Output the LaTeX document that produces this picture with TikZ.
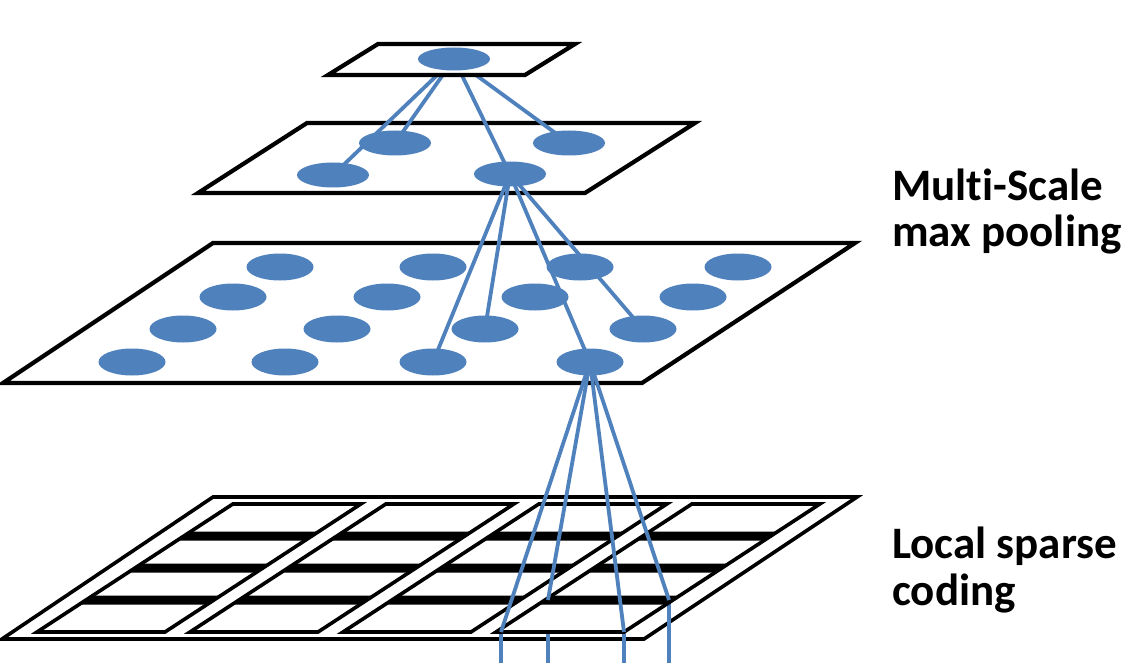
\documentclass[tikz,border=0pt]{standalone}
\usepackage{fontspec}
\setmainfont{Carlito}[Ligatures=NoCommon]
\usetikzlibrary{shapes.geometric}
\definecolor{nodeblue}{RGB}{79,129,189}
\pgfdeclarelayer{bg}
\pgfdeclarelayer{mid}
\pgfsetlayers{bg,mid,main}
\begin{document}
\begin{tikzpicture}[x=1pt,y=-1pt,
  plane/.style={draw=black,fill=white,line width=4.2pt,line join=miter},
  frame/.style={draw=black,fill=white,line width=3.6pt,line join=miter},
  colbox/.style={draw=black,fill=white,line width=3.6pt,line join=miter},
  bar/.style={fill=black},
  dot/.style={ellipse,fill=nodeblue,inner sep=0pt,draw=none},
  dotA/.style={dot,minimum width=72pt,minimum height=23pt},
  dotB/.style={dot,minimum width=72pt,minimum height=25pt},
  dotC/.style={dot,minimum width=67pt,minimum height=27pt},
  link/.style={draw=nodeblue,line width=3.8pt},
  lab/.style={font=\fontsize{45}{47}\selectfont\bfseries,align=left,inner sep=0pt,anchor=base west}
]
\useasboundingbox (0,0) rectangle (1143,663);

% ---- pooled units ----
\node[dotA] (t) at (454,59) {};
\node[dotB] (a1) at (395,143) {};
\node[dotB] (a2) at (569,143) {};
\node[dotB] (a3) at (333,175) {};
\node[dotB] (a4) at (510,174) {};
% row 1
\node[dotC] (b11) at (280,267) {};
\node[dotC] (b12) at (433,267) {};
\node[dotC] (b13) at (580,267) {};
\node[dotC] (b14) at (738,267) {};
% row 2
\node[dotC] (b21) at (233,297) {};
\node[dotC] (b22) at (387,297) {};
\node[dotC] (b23) at (535,297) {};
\node[dotC] (b24) at (693,297) {};
% row 3
\node[dotC] (b31) at (183,329) {};
\node[dotC] (b32) at (337,329) {};
\node[dotC] (b33) at (485,329) {};
\node[dotC] (b34) at (643,329) {};
% row 4
\node[dotC] (b41) at (132,362) {};
\node[dotC] (b42) at (285,362) {};
\node[dotC] (b43) at (433,362) {};
\node[dotC] (b44) at (590,362) {};

% cell corners reached by the links, and their downward ends
\coordinate (p1) at (501,632);
\coordinate (p2) at (548,600);
\coordinate (p3) at (624,632);
\coordinate (p4) at (669,600);
\coordinate (q1) at (501,663);
\coordinate (q2) at (548,663);
\coordinate (q3) at (624,663);
\coordinate (q4) at (669,663);

% ---- labels ----
\node[lab] (l1) at (892,247) {Multi-Scale\\max pooling};
\node[lab] (l2) at (892,605) {Local sparse\\coding};

% ---- background planes ----
\begin{pgfonlayer}{bg}
  % sparse coding grid
  \draw[frame] (213,497) -- (857,497) -- (644,639) -- (2,639) -- cycle;
  \foreach \a/\b in {p1/q1,p2/q2,p3/q3,p4/q4} \draw[link] (\a) -- (\b);
  \begin{scope}[shift={(0,632)},xslant=1.53]
    \foreach \u in {37,190,343,496} {
      \draw[colbox] (\u,0) rectangle ++(128,-128);
      \foreach \v in {-32,-64,-96} \fill[bar] (\u,\v-4.5) rectangle ++(128,9);
    }
  \end{scope}
  % pooling planes
  \draw[plane] (213,243) -- (855,243) -- (642,383) -- (3,383) -- cycle;
  \draw[plane] (307,123) -- (695,123) -- (585,193) -- (198,193) -- cycle;
\end{pgfonlayer}

% ---- links ----
\begin{pgfonlayer}{mid}
  \foreach \c in {a1,a2,a3,a4} \draw[link] (t.center) -- (\c.center);
  \foreach \c in {b43,b33,b44,b34} \draw[link] (a4.center) -- (\c.center);
  \foreach \c in {p1,p2,p3,p4} \draw[link] (b44.center) -- (\c);
  \draw[plane] (378,44) -- (575,44) -- (525,75) -- (328,75) -- cycle;
\end{pgfonlayer}
\end{tikzpicture}
\end{document}
